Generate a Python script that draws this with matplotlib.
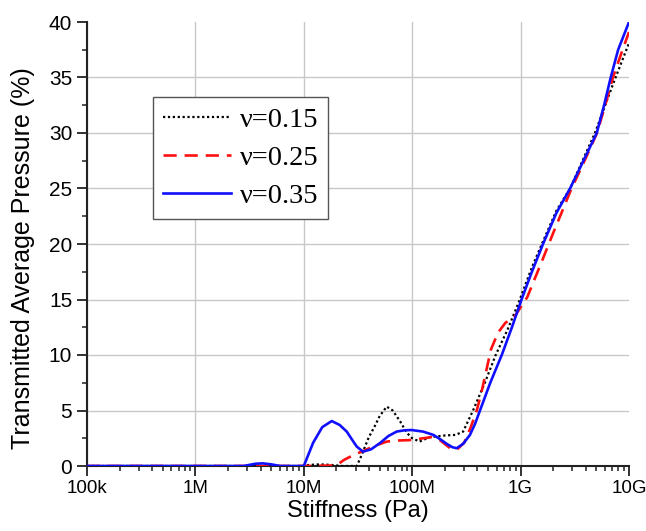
import matplotlib
matplotlib.use("Agg")
import matplotlib.pyplot as plt
from matplotlib.ticker import LogLocator, FixedLocator, FuncFormatter, NullFormatter

# ─── data ─────────────────────────────────────────────────
# stiffness (Pa) / transmitted average pressure (%)
x_015 = [1e5, 1e7, 1.12e7, 1.41e7, 1.78e7, 2.24e7, 3.08e7, 3.39e7, 3.52e7, 3.98e7,
         4.47e7, 5.01e7, 5.82e7, 6.61e7, 7.76e7, 8.91e7, 1e8, 1.17e8, 1.45e8, 2.0e8,
         2.51e8, 2.95e8, 3.64e8, 4.68e8, 5.89e8, 7.59e8, 9.66e8, 1.26e9, 1.57e9, 2.14e9,
         2.86e9, 4.85e9, 7.18e9, 1e10]
y_015 = [0, 0, 0.1, 0.15, 0.1, 0, 0, 0.9, 1.3, 2.6,
         3.5, 4.5, 5.35, 5.0, 4.0, 3.0, 2.5, 2.2, 2.6, 2.75,
         2.8, 3.1, 5.0, 7.5, 10.0, 12.3, 14.8, 17.8, 20.0, 23.0,
         25.0, 30.0, 34.5, 38.1]

x_025 = [1e5, 1e7, 2.0e7, 2.34e7, 2.82e7, 3.52e7, 4.47e7, 5.82e7, 7.59e7, 1e8,
         1.26e8, 1.51e8, 1.82e8, 2.24e8, 2.57e8, 3.02e8, 3.47e8, 3.94e8, 4.32e8, 5.33e8,
         6.18e8, 7.24e8, 8.71e8, 1.15e9, 1.58e9, 2.0e9, 2.95e9, 3.89e9, 5.07e9, 6.03e9,
         7.11e9, 8.51e9, 1e10]
y_025 = [0, 0, 0.05, 0.54, 0.95, 1.35, 1.8, 2.2, 2.3, 2.34,
         2.5, 2.6, 2.3, 1.6, 1.45, 2.1, 3.5, 5.0, 6.5, 10.5,
         12.0, 12.9, 13.4, 15.2, 18.5, 21.0, 25.0, 27.5, 30.0, 32.5,
         35.0, 37.2, 39.1]

x_035 = [1e5, 1e6, 2.8e6, 3.55e6, 4.17e6, 5.01e6, 6.03e6, 1e7, 1.22e7, 1.48e7,
         1.81e7, 2.14e7, 2.49e7, 2.82e7, 3.08e7, 3.52e7, 4.17e7, 5.05e7, 6.03e7, 7.19e7,
         8.51e7, 9.89e7, 1.26e8, 1.57e8, 1.82e8, 2.08e8, 2.34e8, 2.57e8, 2.95e8, 3.41e8,
         3.80e8, 4.22e8, 5.25e8, 6.70e8, 8.32e8, 1.02e9, 1.26e9, 1.61e9, 2.14e9, 2.86e9,
         3.80e9, 5.04e9, 5.89e9, 6.78e9, 7.94e9, 1e10]
y_035 = [0, 0, 0, 0.2, 0.24, 0.15, 0, 0, 2.1, 3.5,
         4.05, 3.7, 3.1, 2.3, 1.75, 1.29, 1.5, 2.07, 2.7, 3.1,
         3.22, 3.24, 3.1, 2.8, 2.4, 2.0, 1.7, 1.6, 2.0, 2.8,
         3.8, 5.0, 7.5, 10.0, 12.5, 15.0, 17.4, 20.0, 22.8, 25.0,
         27.5, 30.0, 32.5, 35.0, 37.5, 40.0]

x_ticks = [1e5, 1e6, 1e7, 1e8, 1e9, 1e10]
x_labels = ["100k", "1M", "10M", "100M", "1G", "10G"]
y_ticks = [0, 5, 10, 15, 20, 25, 30, 35, 40]

# ─── plot ────────────────────────────────────────────────
plt.rcParams["font.family"] = ["Liberation Sans", "DejaVu Sans"]
fig = plt.figure(figsize=(6.46, 5.31), dpi=100)
ax = fig.add_axes([87/646, 1-466/531, 542/646, 444/531])

ax.plot(x_015, y_015, color="black", lw=1.6, ls=(0, (1, 1.2)), label="ν=0.15", zorder=3)
ax.plot(x_025, y_025, color="#ff1010", lw=1.9, ls=(0, (5, 3)), label="ν=0.25", zorder=3)
ax.plot(x_035, y_035, color="#1010ff", lw=1.9, label="ν=0.35", zorder=3)

ax.set_xscale("log")
ax.set_xlim(1e5, 1e10)
ax.set_ylim(0, 40)
ax.xaxis.set_major_locator(FixedLocator(x_ticks))
ax.xaxis.set_major_formatter(FuncFormatter(lambda v, p: x_labels[x_ticks.index(v)] if v in x_ticks else ""))
ax.xaxis.set_minor_locator(LogLocator(base=10, subs=range(2, 10), numticks=20))
ax.xaxis.set_minor_formatter(NullFormatter())
ax.set_yticks(y_ticks)
ax.set_yticks([2.5 + 5*i for i in range(8)], minor=True)

ax.tick_params(which="major", direction="out", length=7.2, width=1.3, color="#222222")
ax.tick_params(which="minor", direction="out", length=3.6, width=1.1, color="#222222")
ax.tick_params(axis="x", which="major", pad=3, labelsize=13.5)
ax.tick_params(axis="y", which="major", pad=3.5, labelsize=15)

for s in ("top", "right"):
    ax.spines[s].set_visible(False)
for s in ("left", "bottom"):
    ax.spines[s].set_linewidth(1.5)
    ax.spines[s].set_color("#222222")

ax.grid(True, which="major", color="#c8c8c8", lw=1.0, zorder=0)
# no grid at the top and right edges
ax.yaxis.get_gridlines()[-1].set_visible(False)
ax.xaxis.get_gridlines()[-1].set_visible(False)

ax.set_xlabel("Stiffness (Pa)", fontsize=17, labelpad=2)
ax.set_ylabel("Transmitted Average Pressure (%)", fontsize=18)
ax.yaxis.set_label_coords(-0.096, 0.468)

leg = ax.legend(loc="upper left", bbox_to_anchor=(66/542, (466-97)/444), borderaxespad=0,
                prop={"family": "Liberation Serif", "size": 20.5}, handlelength=2.4,
                fancybox=False, framealpha=1, edgecolor="#555555", labelspacing=0.42,
                handletextpad=0.3, borderpad=0.35)
leg.get_frame().set_linewidth(1.0)

fig.savefig("out.png", dpi=100)
